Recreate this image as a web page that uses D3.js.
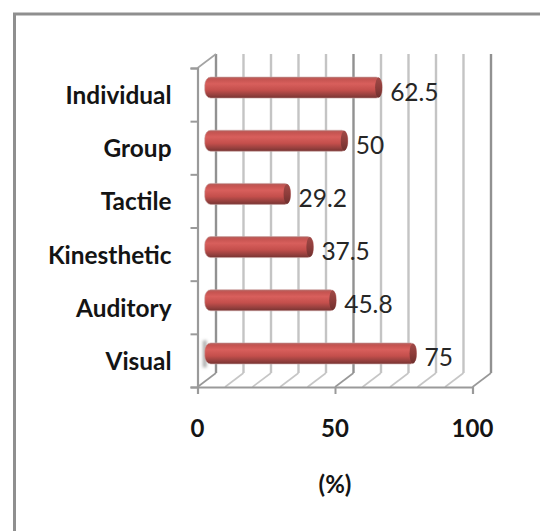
<!DOCTYPE html>
<html>
<head>
<meta charset="utf-8">
<script src="https://cdn.jsdelivr.net/npm/d3@7"></script>
<style>
html, body { margin: 0; padding: 0; background: #fff; }
svg { display: block; }
.cat, .tick-label, .unit { font-family: Lato, "Open Sans", sans-serif; font-weight: 700; fill: #141414; }
.val { font-family: Lato, "Open Sans", sans-serif; font-weight: 400; fill: #262626; }
</style>
</head>
<body>
<svg id="chart" width="540" height="531"></svg>
<script>
const categories = ["Individual", "Group", "Tactile", "Kinesthetic", "Auditory", "Visual"];
const percentages = [62.5, 50, 29.2, 37.5, 45.8, 75];
const valueLabels = ["62.5", "50", "29.2", "37.5", "45.8", "75"];
const xLabelTicks = [0, 50, 100];
const gridTicks = [0, 10, 20, 30, 40, 50, 60, 70, 80, 90, 100];

const svg = d3.select("#chart");
const frontLeft = 197.5, frontRight = 472.5, frontTop = 68, frontBottom = 387;
const depthX = 18.5, depthY = -14;

const x = d3.scaleLinear().domain([0, 100]).range([frontLeft, frontRight]);
const y = d3.scaleBand().domain(categories).range([frontTop, frontBottom]);
const yEdge = d3.scaleLinear().domain([0, categories.length]).range([frontTop, frontBottom]);

// Outer chart frame, running off the page at right and bottom
svg.append("path")
  .attr("d", "M14.5,531V14H540")
  .attr("fill", "none").attr("stroke", "#8f8f8f").attr("stroke-width", 3);

const defs = svg.append("defs");
const tube = defs.append("linearGradient").attr("id", "tube").attr("x1", 0).attr("x2", 0).attr("y1", 0).attr("y2", 1);
[[0, "#b4605d"], [0.12, "#c65451"], [0.32, "#d85f5c"], [0.62, "#c44f4c"], [0.85, "#96403e"], [1, "#773331"]]
  .forEach(([o, c]) => tube.append("stop").attr("offset", o).attr("stop-color", c));
const capFill = defs.append("linearGradient").attr("id", "cap").attr("x1", 0).attr("x2", 0).attr("y1", 0).attr("y2", 1);
[[0, "#a04a47"], [0.5, "#8e3d3b"], [1, "#6f302e"]]
  .forEach(([o, c]) => capFill.append("stop").attr("offset", o).attr("stop-color", c));
defs.append("filter").attr("id", "soft").attr("x", "-200%").attr("width", "500%")
  .append("feGaussianBlur").attr("stdDeviation", 1.4);

// Back wall gridlines and their floor diagonals
const grid = svg.append("g").attr("fill", "none");
grid.selectAll(".wall").data(gridTicks).join("line")
  .attr("class", "wall")
  .attr("x1", d => x(d) + depthX).attr("x2", d => x(d) + depthX)
  .attr("y1", frontTop + depthY).attr("y2", frontBottom + depthY)
  .attr("stroke", d => d % 50 === 0 ? "#919191" : "#c4c4c4")
  .attr("stroke-width", 2.4);
grid.selectAll(".floor").data(gridTicks).join("line")
  .attr("class", "floor")
  .attr("x1", d => x(d)).attr("x2", d => x(d) + depthX)
  .attr("y1", frontBottom).attr("y2", frontBottom + depthY)
  .attr("stroke", d => d % 50 === 0 ? "#989898" : "#c6c6c6")
  .attr("stroke-width", 1.6);

// Side wall top edge
svg.append("line")
  .attr("x1", frontLeft).attr("y1", frontTop)
  .attr("x2", frontLeft + depthX).attr("y2", frontTop + depthY)
  .attr("stroke", "#a3a3a3").attr("stroke-width", 1.6);

// Front axes
const xAxis = d3.axisBottom(x).tickValues(xLabelTicks).tickSize(7).tickFormat("");
const gx = svg.append("g").attr("transform", `translate(0,${frontBottom})`).call(xAxis);
const yAxis = d3.axisLeft(yEdge).tickValues(d3.range(categories.length + 1)).tickSize(7).tickFormat("");
const gy = svg.append("g").attr("transform", `translate(${frontLeft},0)`).call(yAxis);
[gx, gy].forEach(g => {
  g.selectAll(".domain").attr("stroke", "#9a9a9a").attr("stroke-width", 2.2);
  g.selectAll(".tick line").attr("stroke", "#9a9a9a").attr("stroke-width", 2);
});

// Tube bars, sitting halfway into the depth of the plot
const barHeight = 21, capRx = 3.5, barDepthX = depthX / 2, barDepthY = depthY / 2;
const barCy = d => y(d) + y.bandwidth() / 2 + barDepthY;
const barEnd = v => x(v) + barDepthX + capRx;
const barStart = () => x(0) + barDepthX - 2;

// Faint shadow at the base of the lowest bar
svg.append("rect")
  .attr("x", barStart() - 2).attr("width", 4)
  .attr("y", barCy("Visual") - 13).attr("height", 27)
  .attr("fill", "#8d8d8d").attr("opacity", 0.7)
  .attr("filter", "url(#soft)");

const bars = svg.append("g").selectAll("g").data(categories).join("g");
bars.append("rect")
  .attr("x", barStart())
  .attr("y", d => barCy(d) - barHeight / 2)
  .attr("width", (d, i) => barEnd(percentages[i]) - barStart())
  .attr("height", barHeight)
  .attr("rx", 6).attr("ry", 8)
  .attr("fill", "url(#tube)")
  .attr("stroke", "#c9a3a1").attr("stroke-width", 0.6);
bars.append("ellipse")
  .attr("cx", (d, i) => barEnd(percentages[i]) - capRx)
  .attr("cy", barCy)
  .attr("rx", capRx).attr("ry", barHeight / 2 - 0.5)
  .attr("fill", "url(#cap)");

// Value labels
svg.append("g").selectAll("text").data(categories).join("text")
  .attr("class", "val")
  .attr("x", (d, i) => barEnd(percentages[i]) + 8)
  .attr("y", d => barCy(d) + 13)
  .attr("font-size", 24.5)
  .text((d, i) => valueLabels[i]);

// Category labels
svg.append("g").selectAll("text").data(categories).join("text")
  .attr("class", "cat")
  .attr("x", 171.5)
  .attr("y", d => y(d) + y.bandwidth() / 2 + 9.5)
  .attr("text-anchor", "end")
  .attr("font-size", 24.4)
  .text(d => d);

// Axis numbers and unit
svg.append("g").selectAll("text").data(xLabelTicks).join("text")
  .attr("class", "tick-label")
  .attr("x", d => x(d))
  .attr("y", 437)
  .attr("text-anchor", "middle")
  .attr("font-size", 24)
  .text(d => d);
svg.append("text").attr("class", "unit")
  .attr("x", x(50)).attr("y", 493)
  .attr("text-anchor", "middle").attr("font-size", 24)
  .text("(%)");
</script>
</body>
</html>
